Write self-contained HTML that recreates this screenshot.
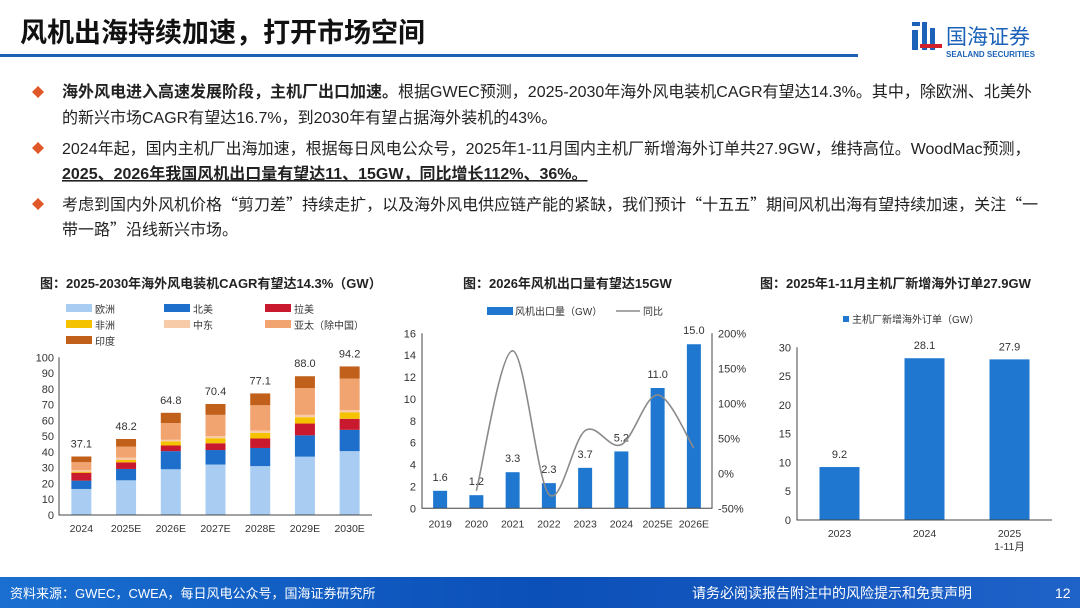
<!DOCTYPE html>
<html><head><meta charset="utf-8">
<style>
body{margin:0;width:1080px;height:608px;overflow:hidden;background:#fff;font-family:"Liberation Sans","Noto Sans CJK SC",sans-serif;}
svg text{font-family:"Liberation Sans","Noto Sans CJK SC",sans-serif;}
.q{font-family:"Noto Sans CJK SC",sans-serif;}
</style></head><body>
<svg id="s" width="1080" height="608" xmlns="http://www.w3.org/2000/svg">
<defs><linearGradient id="fg" x1="0" x2="1"><stop offset="0" stop-color="#1a6fd0"/><stop offset="0.5" stop-color="#0b4fb8"/><stop offset="1" stop-color="#1f62c8"/></linearGradient></defs>
<text x="20" y="42" font-size="27" font-weight="bold" fill="#111">风机出海持续加速，打开市场空间</text>
<rect x="0" y="54" width="858" height="3" fill="#1e5fb4"/>
<g>
<rect x="912" y="22" width="8" height="4" fill="#1b62b8"/><rect x="912" y="30" width="6" height="20" fill="#1b62b8"/>
<rect x="922" y="22" width="5" height="28" fill="#1b62b8"/><rect x="930" y="28" width="5" height="22" fill="#1b62b8"/>
<rect x="920" y="44" width="22" height="4" fill="#d0202a"/>
<text x="946" y="44" font-size="21" fill="#1b62b8">国海证券</text>
<text x="946" y="57" font-size="8" font-weight="bold" fill="#1b62b8">SEALAND SECURITIES</text>
</g>
<g font-size="16" fill="#222">
<path d="M38 86l6 6-6 6-6-6z" fill="#e0572a"/>
<text x="62" y="97"><tspan font-weight="bold">海外风电进入高速发展阶段，主机厂出口加速。</tspan>根据GWEC预测，2025-2030年海外风电装机CAGR有望达14.3%。其中，除欧洲、北美外</text>
<text x="62" y="123">的新兴市场CAGR有望达16.7%，到2030年有望占据海外装机的43%。</text>
<path d="M38 142l6 6-6 6-6-6z" fill="#e0572a"/>
<text x="62" y="154">2024年起，国内主机厂出海加速，根据每日风电公众号，2025年1-11月国内主机厂新增海外订单共27.9GW，维持高位。WoodMac预测，</text>
<text x="62" y="179" font-weight="bold" text-decoration="underline">2025、2026年我国风机出口量有望达11、15GW，同比增长112%、36%。</text>
<path d="M38 198l6 6-6 6-6-6z" fill="#e0572a"/>
<text x="62" y="210">考虑到国内外风机价格<tspan class="q">“</tspan>剪刀差<tspan class="q">”</tspan>持续走扩，以及海外风电供应链产能的紧缺，我们预计<tspan class="q">“</tspan>十五五<tspan class="q">”</tspan>期间风机出海有望持续加速，关注<tspan class="q">“</tspan>一</text>
<text x="62" y="235">带一路<tspan class="q">”</tspan>沿线新兴市场。</text>
</g>
<text x="40" y="288" font-size="13" font-weight="bold" fill="#222">图：2025-2030年海外风电装机CAGR有望达14.3%（GW）</text>
<text x="463" y="288" font-size="13" font-weight="bold" fill="#222">图：2026年风机出口量有望达15GW</text>
<text x="760" y="288" font-size="13" font-weight="bold" fill="#222">图：2025年1-11月主机厂新增海外订单27.9GW</text>
<g id="c1"></g><g id="c2"></g><g id="c3"></g>
<rect x="0" y="577" width="1080" height="31" fill="url(#fg)"/>
<text x="10" y="598" font-size="13" fill="#fff">资料来源：GWEC，CWEA，每日风电公众号，国海证券研究所</text>
<text x="692" y="598" font-size="14" fill="#fff">请务必阅读报告附注中的风险提示和免责声明</text>
<text x="1055" y="598" font-size="14" fill="#fff">12</text>
</svg>
<script>
const NS="http://www.w3.org/2000/svg";
function mk(p,t,a,txt){const e=document.createElementNS(NS,t);for(const k in a)e.setAttribute(k,a[k]);if(txt!==undefined)e.textContent=txt;p.appendChild(e);return e;}
// Chart 1 data
const c1Years=["2024","2025E","2026E","2027E","2028E","2029E","2030E"];
const c1Series=["欧洲","北美","拉美","非洲","中东","亚太（除中国）","印度"];
const c1Europe=[16.5,22,29,32,31,37,40.5];
const c1NAm=[5.3,7.2,11.5,9.2,11.5,13.5,13.5];
const c1LatAm=[5,4.2,3.6,4.3,6,7.5,7];
const c1Africa=[0.7,1.5,2.6,3.2,3.6,4,4];
const c1MidEast=[1,1.5,1,1.3,1.5,1.5,1.5];
const c1AsiaPac=[5,7,10.6,13.5,16,17,20];
const c1India=[3.6,4.8,6.5,6.9,7.5,7.5,7.7];
const c1Totals=[37.1,48.2,64.8,70.4,77.1,88.0,94.2];
const c1Ticks=[0,10,20,30,40,50,60,70,80,90,100];
const c1Colors=["#a9cdf2","#1e6fcc","#c8192e","#f5c200","#f8cba8","#f2a470","#c0601a"];
const c2Years=["2019","2020","2021","2022","2023","2024","2025E","2026E"];
const c2Export=[1.6,1.2,3.3,2.3,3.7,5.2,11.0,15.0];
const c2Yoy=[null,-25,175,-30,61,41,112,36];
const c2LTicks=[0,2,4,6,8,10,12,14,16];
const c2RTicks=[-50,0,50,100,150,200];
const c3Cats=[["2023"],["2024"],["2025","1-11月"]];
const c3Orders=[9.2,28.1,27.9];
const c3Ticks=[0,5,10,15,20,25,30];

// Chart 1
(function(){const g=document.getElementById('c1');
const x0=59,x1=372,y0=515,yT=357.3,vmax=100;const y=v=>y0-(y0-yT)*v/vmax;const bw=(x1-x0)/c1Years.length;const cx=i=>x0+bw*(i+0.5);
const lg=[[66,313],[164,313],[265,313],[66,329],[164,329],[265,329],[66,345]];
c1Series.forEach((s,i)=>{const r=mk(g,'rect',{x:lg[i][0],y:lg[i][1]-9,width:26,height:8,fill:c1Colors[i]});

const t=mk(g,'text',{x:lg[i][0]+29,y:lg[i][1],'font-size':10,fill:'#333'},s);});
c1Ticks.forEach(v=>{const t=mk(g,'text',{x:x0-5,y:y(v)+4,'font-size':11,fill:'#333','text-anchor':'end'},v);});
const ser=[c1Europe,c1NAm,c1LatAm,c1Africa,c1MidEast,c1AsiaPac,c1India];
c1Years.forEach((yr,i)=>{let acc=0;ser.forEach((arr,k)=>{const v=arr[i];const r=mk(g,'rect',{x:cx(i)-10,y:y(acc+v),width:20,height:y(acc)-y(acc+v),fill:c1Colors[k]});
acc+=v;});
const t=mk(g,'text',{x:cx(i),y:y(c1Totals[i])-9,'font-size':11,fill:'#333','text-anchor':'middle'},c1Totals[i].toFixed(1));
const xl=mk(g,'text',{x:cx(i),y:y0+17,'font-size':10.5,fill:'#333','text-anchor':'middle'},yr);});
const ax=mk(g,'path',{d:`M${x0} ${yT}V${y0}H${x1}`,stroke:'#444',fill:'none'});})();

// Chart 2
(function(){const g=document.getElementById('c2');
const x0=422,x1=712,y0=508.3,yT=333.3;const y=v=>y0-(y0-yT)*v/16;const yr=v=>y0-(y0-yT)*(v+50)/250;const bw=(x1-x0)/c2Years.length;const cx=i=>x0+bw*(i+0.5);
let r=mk(g,'rect',{x:487,y:307,width:26,height:8,fill:'#1f77d0'});
let t=mk(g,'text',{x:515,y:315,'font-size':10,fill:'#333'},'风机出口量（GW）');
let l=mk(g,'line',{x1:616,y1:311,x2:640,y2:311,stroke:'#888','stroke-width':1.5});
t=mk(g,'text',{x:643,y:315,'font-size':10,fill:'#333'},'同比');
c2LTicks.forEach(v=>{const e=mk(g,'text',{x:x0-6,y:y(v)+4,'font-size':11,fill:'#333','text-anchor':'end'},v);});
c2RTicks.forEach(v=>{const e=mk(g,'text',{x:x1+6,y:yr(v)+4,'font-size':11,fill:'#333'},v+'%');});
c2Years.forEach((yy,i)=>{const e=mk(g,'rect',{x:cx(i)-7,y:y(c2Export[i]),width:14,height:y0-y(c2Export[i]),fill:'#1f77d0'});
const v=mk(g,'text',{x:cx(i),y:y(c2Export[i])-10,'font-size':11,fill:'#333','text-anchor':'middle'},c2Export[i].toFixed(1));
const xl=mk(g,'text',{x:cx(i),y:y0+19,'font-size':10.5,fill:'#333','text-anchor':'middle'},yy);});
const pts=[];c2Yoy.forEach((v,i)=>{if(v!==null)pts.push([cx(i),yr(v)]);});
let d=`M${pts[0][0]} ${pts[0][1]}`;for(let i=0;i<pts.length-1;i++){const p0=pts[Math.max(0,i-1)],p1=pts[i],p2=pts[i+1],p3=pts[Math.min(pts.length-1,i+2)];
d+=`C${p1[0]+(p2[0]-p0[0])/6} ${p1[1]+(p2[1]-p0[1])/6} ${p2[0]-(p3[0]-p1[0])/6} ${p2[1]-(p3[1]-p1[1])/6} ${p2[0]} ${p2[1]}`;}
const ln=mk(g,'path',{d:d,stroke:'#8a8a8a','stroke-width':1.6,fill:'none'});
const ax=mk(g,'path',{d:`M${x0} ${yT}V${y0}H${x1}V${yT}`,stroke:'#444',fill:'none'});})();

// Chart 3
(function(){const g=document.getElementById('c3');
const x0=797,x1=1052,y0=520,yT=347.3;const y=v=>y0-(y0-yT)*v/30;const bw=(x1-x0)/c3Cats.length;const cx=i=>x0+bw*(i+0.5);
let r=mk(g,'rect',{x:843,y:316,width:6,height:6,fill:'#1f77d0'});
let t=mk(g,'text',{x:852,y:323,'font-size':10,fill:'#333'},'主机厂新增海外订单（GW）');
c3Ticks.forEach(v=>{const e=mk(g,'text',{x:x0-6,y:y(v)+4,'font-size':11,fill:'#333','text-anchor':'end'},v);});
c3Cats.forEach((c,i)=>{const e=mk(g,'rect',{x:cx(i)-20,y:y(c3Orders[i]),width:40,height:y0-y(c3Orders[i]),fill:'#1f77d0'});
const v=mk(g,'text',{x:cx(i),y:y(c3Orders[i])-9,'font-size':11,fill:'#333','text-anchor':'middle'},c3Orders[i].toFixed(1));
c.forEach((s,k)=>{const xl=mk(g,'text',{x:cx(i),y:y0+17+k*13,'font-size':10.5,fill:'#333','text-anchor':'middle'},s);});});
const ax=mk(g,'path',{d:`M${x0} ${yT}V${y0}H${x1}`,stroke:'#444',fill:'none'});})();
</script>
</body></html>
